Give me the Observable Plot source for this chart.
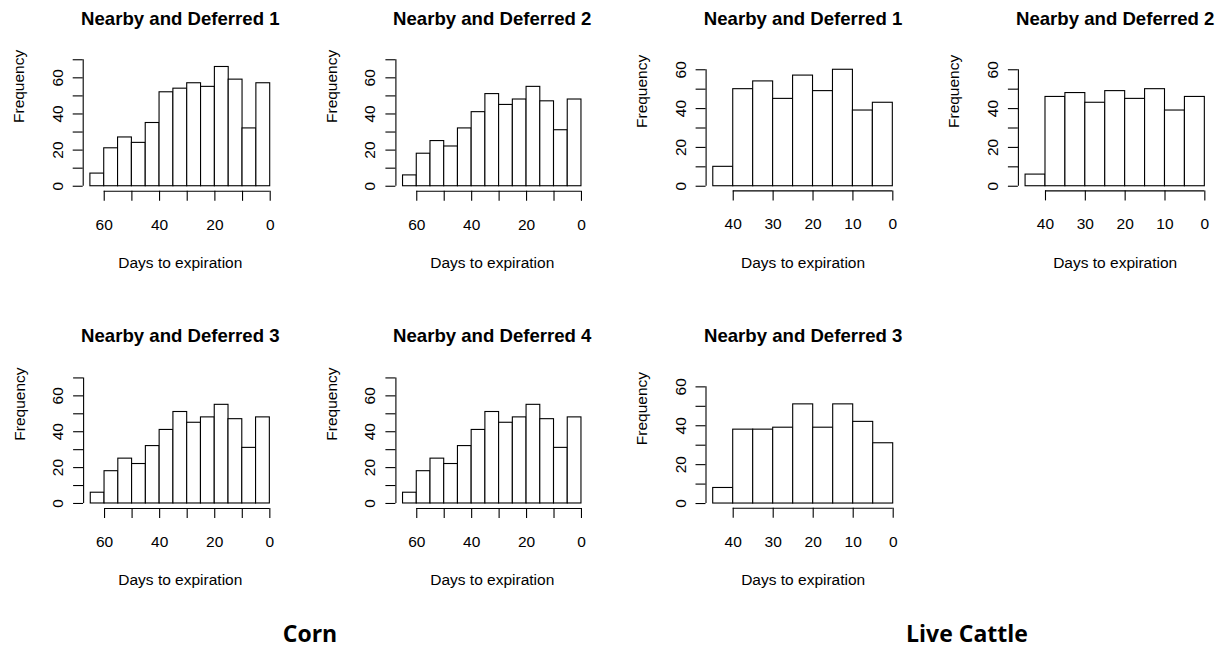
<!DOCTYPE html>
<html>
<head>
<meta charset="utf-8">
<script src="https://cdn.jsdelivr.net/npm/d3@7"></script>
<script src="https://cdn.jsdelivr.net/npm/@observablehq/plot@0.6"></script>
<style>
  html, body { margin: 0; padding: 0; background: white; }
  #wrap { position: relative; width: 1230px; height: 652px; overflow: hidden; }
  .cell { position: absolute; }
  .caption { position: absolute; font-family: "Open Sans", "Noto Sans", sans-serif; font-weight: 700; font-size: 23px; color: #000; transform: translateX(-50%); white-space: nowrap; line-height: 1; }
</style>
</head>
<body>
<div id="wrap"></div>
<script>
// ---- data (bin breaks: days to expiration, 5-day bins) ----
const cornBreaks = [65, 60, 55, 50, 45, 40, 35, 30, 25, 20, 15, 10, 5, 0];
const cornND1 = [7, 21, 27, 24, 35, 52, 54, 57, 55, 66, 59, 32, 57];
const cornND2 = [6, 18, 25, 22, 32, 41, 51, 45, 48, 55, 47, 31, 48];
const cornND3 = [6, 18, 25, 22, 32, 41, 51, 45, 48, 55, 47, 31, 48];
const cornND4 = [6, 18, 25, 22, 32, 41, 51, 45, 48, 55, 47, 31, 48];

const cattleBreaks = [45, 40, 35, 30, 25, 20, 15, 10, 5, 0];
const cattleND1 = [10, 50, 54, 45, 57, 49, 60, 39, 43];
const cattleND2 = [6, 46, 48, 43, 49, 45, 50, 39, 46];
const cattleND3 = [8, 38, 38, 39, 51, 39, 51, 42, 31];

const titles = ["Nearby and Deferred 1", "Nearby and Deferred 2", "Nearby and Deferred 3", "Nearby and Deferred 4"];
const xLabel = "Days to expiration";
const yLabel = "Frequency";
const cornXTicks = [60, 50, 40, 30, 20, 10, 0];
const cornXLabels = [60, 40, 20, 0];
const cornYTicks = [0, 10, 20, 30, 40, 50, 60, 70];
const cattleXTicks = [40, 30, 20, 10, 0];
const cattleXLabels = [40, 30, 20, 10, 0];
const cattleYTicks = [0, 10, 20, 30, 40, 50, 60];
const yLabels = [0, 20, 40, 60];
const captions = ["Corn", "Live Cattle"];

function bins(breaks, counts) {
  return counts.map((c, i) => ({x0: breaks[i], x1: breaks[i + 1], count: c}));
}

// panel layout: cell box and plot-region box (page pixels)
const panels = [
  {title: titles[0], breaks: cornBreaks, counts: cornND1, kind: "corn", cell: [0, 0, 310, 300], frame: [82.7, 276.9, 54.2, 190.8], titleY: 24, xlabY: 267},
  {title: titles[1], breaks: cornBreaks, counts: cornND2, kind: "corn", cell: [310, 0, 310, 300], frame: [395.4, 588.1, 54.2, 190.8], titleY: 24, xlabY: 267},
  {title: titles[0], breaks: cattleBreaks, counts: cattleND1, kind: "cattle", cell: [620, 0, 305, 300], frame: [705.6, 899.5, 64.6, 190.4], titleY: 24, xlabY: 267},
  {title: titles[1], breaks: cattleBreaks, counts: cattleND2, kind: "cattle", cell: [925, 0, 305, 300], frame: [1017.9, 1211.5, 64.6, 190.4], titleY: 24, xlabY: 267},
  {title: titles[2], breaks: cornBreaks, counts: cornND3, kind: "corn", cell: [0, 310, 310, 290], frame: [83.1, 276.5, 372.4, 508.0], titleY: 341, xlabY: 584},
  {title: titles[3], breaks: cornBreaks, counts: cornND4, kind: "corn", cell: [310, 310, 310, 290], frame: [395.4, 588.1, 372.4, 508.0], titleY: 341, xlabY: 584},
  {title: titles[2], breaks: cattleBreaks, counts: cattleND3, kind: "cattle", cell: [620, 310, 305, 290], frame: [705.5, 899.9, 381.7, 507.7], titleY: 341, xlabY: 584}
];

const wrap = document.getElementById("wrap");

for (const p of panels) {
  const [cx, cy, cw, ch] = p.cell;
  const [L, R, T, B] = p.frame;
  const corn = p.kind === "corn";
  const xMax = corn ? 65 : 45;
  const yMax = corn ? 70 : 60;
  const xPad = xMax * 0.04, yPad = yMax * 0.04;
  const xDomain = [xMax + xPad, -xPad];
  const yDomain = [-yPad, yMax + yPad];
  const xTicks = corn ? cornXTicks : cattleXTicks;
  const xLabs = corn ? cornXLabels : cattleXLabels;
  const yTicks = corn ? cornYTicks : cattleYTicks;

  const chart = Plot.plot({
    width: cw,
    height: ch,
    marginLeft: L - cx,
    marginRight: cx + cw - R,
    marginTop: T - cy,
    marginBottom: cy + ch - B,
    x: {domain: xDomain},
    y: {domain: yDomain},
    style: {fontFamily: "'Liberation Sans', Arial, sans-serif", fontSize: "15.5px", background: "transparent", color: "black", overflow: "visible"},
    marks: [
      Plot.rect(bins(p.breaks, p.counts), {x1: "x0", x2: "x1", y1: 0, y2: "count", fill: "white", stroke: "black", strokeWidth: 1.1}),
      // axis lines (R style: from first to last tick)
      Plot.ruleY([yDomain[0]], {x1: xTicks[0], x2: xTicks[xTicks.length - 1], stroke: "black", strokeWidth: 1.1}),
      Plot.ruleX([xDomain[0]], {y1: yTicks[0], y2: yTicks[yTicks.length - 1], stroke: "black", strokeWidth: 1.1}),
      Plot.axisX({ticks: xTicks, tickSize: 10, tickPadding: 17.5, strokeWidth: 1.1, tickFormat: d => xLabs.includes(d) ? String(d) : "", label: null, fontSize: 15.5}),
      Plot.axisY({ticks: yTicks, tickSize: 10, tickPadding: 10.5, tickRotate: -90, strokeWidth: 1.1, tickFormat: d => yLabels.includes(d) ? String(d) : "", label: null, fontSize: 15.5}),
      Plot.text([p.title], {text: d => d, frameAnchor: "top", dy: p.titleY - T, lineAnchor: "bottom", fontWeight: "bold", fontSize: 18.6}),
      Plot.text([xLabel], {text: d => d, frameAnchor: "bottom", dy: p.xlabY - B, lineAnchor: "bottom", fontSize: 15.5}),
      Plot.text([yLabel], {text: d => d, frameAnchor: "left", dx: -59, rotate: -90, lineAnchor: "bottom", fontSize: 15.5})
    ]
  });
  const div = document.createElement("div");
  div.className = "cell";
  div.style.left = cx + "px";
  div.style.top = cy + "px";
  div.style.width = cw + "px";
  div.style.height = ch + "px";
  div.appendChild(chart);
  wrap.appendChild(div);
}

// bottom captions
const capPos = [[310, 642], [967, 642]];
captions.forEach((c, i) => {
  const d = document.createElement("div");
  d.className = "caption";
  d.textContent = c;
  d.style.left = capPos[i][0] + "px";
  d.style.top = (capPos[i][1] - 20) + "px";
  wrap.appendChild(d);
});
</script>
</body>
</html>
